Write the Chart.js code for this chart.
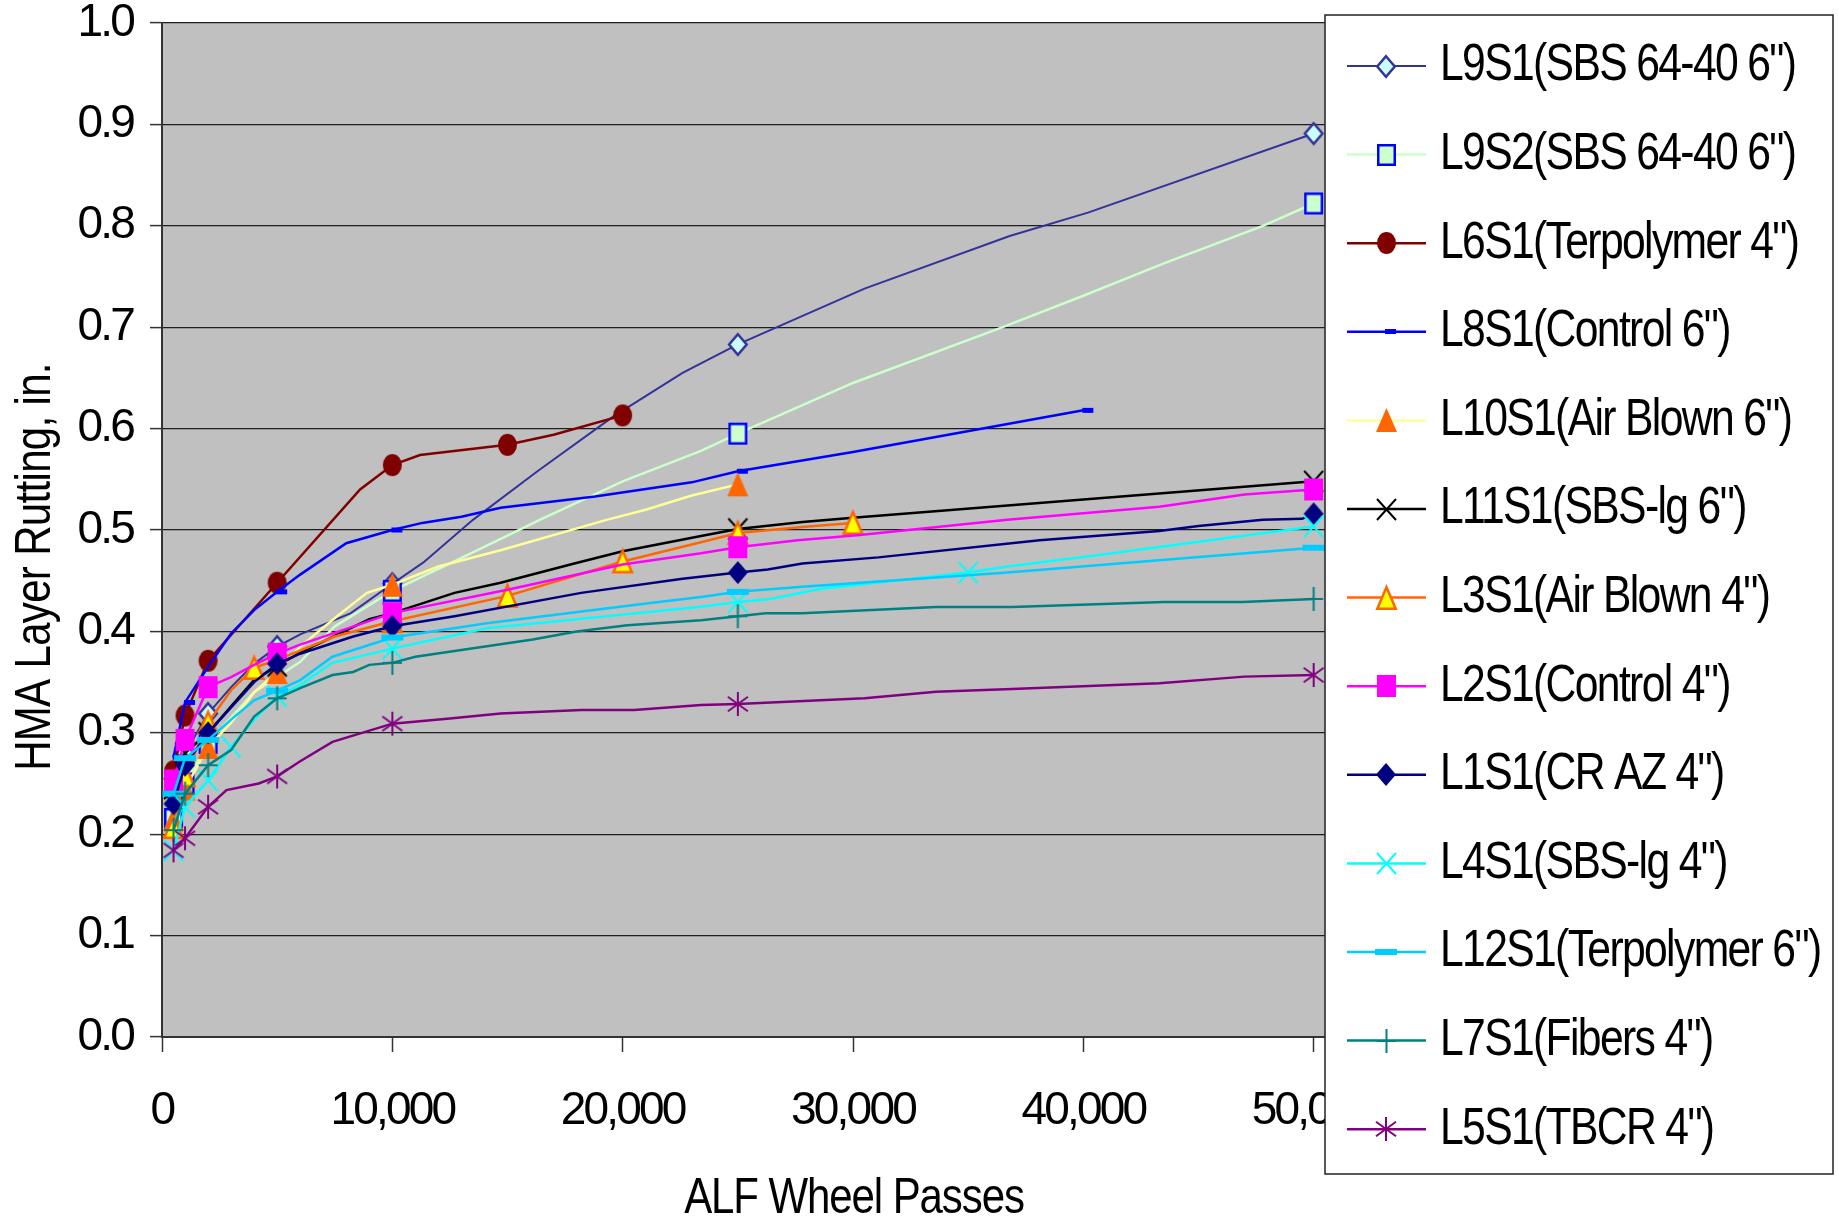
<!DOCTYPE html>
<html>
<head>
<meta charset="utf-8">
<script src="https://cdn.jsdelivr.net/npm/chart.js@4/dist/chart.umd.min.js"></script>
<style>
  html, body { margin: 0; padding: 0; background: #fff; }
  canvas { display: block; }
</style>
</head>
<body>
<canvas id="rutting" width="1839" height="1225"></canvas>
<script>
// ALF wheel passes vs HMA layer rutting (in.) per lane, [passes, rutting]
var L9S1 = [[500,0.24],[1000,0.28],[2000,0.319],[3000,0.345],[4000,0.368],[5000,0.385],[6000,0.397],[8200,0.418],[10000,0.447],[11350,0.468],[13500,0.51],[16300,0.558],[19600,0.612],[22600,0.655],[25000,0.683],[26800,0.701],[30500,0.738],[36800,0.79],[40200,0.813],[50000,0.891]];
var L9S2 = [[500,0.215],[1000,0.25],[2000,0.29],[3000,0.315],[4000,0.34],[5000,0.355],[6000,0.37],[7500,0.405],[10000,0.44],[12600,0.468],[15400,0.499],[16400,0.51],[20000,0.548],[23400,0.578],[25000,0.595],[30000,0.645],[36500,0.7],[40000,0.731],[43500,0.763],[47800,0.8],[50000,0.822]];
var L6S1 = [[500,0.262],[1000,0.317],[2000,0.371],[5000,0.448],[8600,0.54],[10000,0.564],[11200,0.574],[15000,0.584],[17000,0.594],[20000,0.613]];
var L8S1 = [[500,0.276],[1000,0.33],[2000,0.365],[3000,0.398],[4000,0.421],[5000,0.439],[6000,0.456],[8000,0.487],[10000,0.5],[11300,0.507],[13000,0.513],[14700,0.522],[18800,0.533],[23000,0.547],[25000,0.558],[30000,0.577],[40000,0.618]];
var L10S1 = [[500,0.215],[1000,0.245],[2000,0.286],[3000,0.31],[4000,0.34],[5000,0.36],[6000,0.385],[7600,0.415],[8900,0.438],[10000,0.446],[12000,0.464],[14700,0.48],[19300,0.51],[21000,0.52],[23000,0.534],[25000,0.545]];
var L11S1 = [[500,0.245],[1000,0.28],[2000,0.3],[3000,0.326],[4000,0.352],[5000,0.366],[6000,0.379],[9000,0.412],[10000,0.418],[12700,0.438],[14700,0.448],[17900,0.467],[20000,0.479],[23400,0.494],[25000,0.501],[27800,0.508],[30000,0.512],[50000,0.548]];
var L3S1 = [[500,0.207],[1000,0.258],[2000,0.31],[3000,0.342],[4000,0.364],[5000,0.372],[7500,0.395],[10000,0.41],[15000,0.435],[20000,0.469],[23400,0.488],[25000,0.497],[27800,0.503],[30000,0.507]];
var L2S1 = [[500,0.253],[1000,0.293],[2000,0.345],[3000,0.355],[4000,0.367],[5000,0.378],[6000,0.387],[10000,0.418],[15000,0.441],[20000,0.466],[23400,0.477],[25000,0.483],[27600,0.49],[30300,0.495],[36700,0.51],[43300,0.523],[47000,0.535],[50000,0.54]];
var L1S1 = [[500,0.23],[1000,0.268],[2000,0.3],[3000,0.325],[4000,0.35],[5000,0.368],[6000,0.378],[8300,0.395],[10000,0.405],[12700,0.415],[18200,0.438],[22600,0.452],[25000,0.458],[26300,0.461],[27800,0.467],[31100,0.473],[38100,0.49],[43300,0.499],[45000,0.504],[47800,0.51],[49500,0.511],[50000,0.516]];
var L4S1 = [[500,0.184],[1000,0.227],[2000,0.253],[3000,0.286],[4000,0.313],[5000,0.336],[6000,0.347],[7400,0.369],[10000,0.383],[14100,0.403],[23300,0.424],[25000,0.429],[26400,0.432],[28600,0.442],[32200,0.451],[35000,0.458],[36700,0.464],[40600,0.475],[50000,0.5035]];
var L12S1 = [[500,0.24],[1000,0.275],[2000,0.293],[3000,0.313],[4000,0.332],[5000,0.3415],[6000,0.352],[7400,0.375],[10000,0.394],[14100,0.408],[21200,0.428],[23400,0.434],[25000,0.439],[27800,0.444],[32200,0.451],[36700,0.458],[50000,0.4825]];
var L7S1 = [[500,0.204],[1000,0.24],[2000,0.268],[3000,0.283],[4000,0.316],[5000,0.334],[6000,0.344],[7400,0.357],[8300,0.36],[9000,0.367],[10000,0.369],[11000,0.375],[16100,0.392],[18000,0.4],[20200,0.406],[23400,0.411],[25000,0.415],[26200,0.418],[27800,0.418],[33600,0.424],[36900,0.424],[43500,0.429],[46900,0.429],[50000,0.432]];
var L5S1 = [[500,0.184],[1000,0.196],[2000,0.227],[2800,0.2435],[4200,0.25],[5000,0.257],[6000,0.272],[7400,0.291],[10000,0.309],[12500,0.314],[14700,0.319],[18200,0.3225],[20500,0.3225],[23400,0.3275],[25000,0.3284],[30500,0.334],[33600,0.3406],[36900,0.3432],[43300,0.3488],[47000,0.3554],[50000,0.357]];

// passes where each lane carries a marker
var L9S1_marks = [500, 1000, 2000, 5000, 10000, 25000, 50000];
var L9S2_marks = [500, 1000, 2000, 10000, 25000, 50000];
var L6S1_marks = [500, 1000, 2000, 5000, 10000, 15000, 20000];
var L8S1_marks = [500, 1000, 5000, 10000, 25000, 40000];
var L10S1_marks = [500, 1000, 2000, 5000, 10000, 25000];
var L11S1_marks = [500, 1000, 2000, 5000, 10000, 25000, 50000];
var L3S1_marks = [500, 1000, 2000, 4000, 10000, 15000, 20000, 25000, 30000];
var L2S1_marks = [500, 1000, 2000, 5000, 10000, 25000, 50000];
var L1S1_marks = [500, 1000, 2000, 5000, 10000, 25000, 50000];
var L4S1_marks = [500, 1000, 2000, 3000, 5000, 10000, 25000, 35000, 50000];
var L12S1_marks = [500, 1000, 2000, 5000, 10000, 25000, 50000];
var L7S1_marks = [500, 1000, 2000, 5000, 10000, 25000, 50000];
var L5S1_marks = [500, 1000, 2000, 5000, 10000, 25000, 50000];

var laneNames = ['L9S1(SBS 64-40 6")', 'L9S2(SBS 64-40 6")', 'L6S1(Terpolymer 4")', 'L8S1(Control 6")',
  'L10S1(Air Blown 6")', 'L11S1(SBS-lg 6")', 'L3S1(Air Blown 4")', 'L2S1(Control 4")', 'L1S1(CR AZ 4")',
  'L4S1(SBS-lg 4")', 'L12S1(Terpolymer 6")', 'L7S1(Fibers 4")', 'L5S1(TBCR 4")'];
var xTicks = [0, 10000, 20000, 30000, 40000, 50000, 60000];
var yTicks = [0, 0.1, 0.2, 0.3, 0.4, 0.5, 0.6, 0.7, 0.8, 0.9, 1.0];

var laneData = [L9S1, L9S2, L6S1, L8S1, L10S1, L11S1, L3S1, L2S1, L1S1, L4S1, L12S1, L7S1, L5S1];
var laneMarks = [L9S1_marks, L9S2_marks, L6S1_marks, L8S1_marks, L10S1_marks, L11S1_marks, L3S1_marks,
  L2S1_marks, L1S1_marks, L4S1_marks, L12S1_marks, L7S1_marks, L5S1_marks];

var FONT = '"Liberation Sans", Arial, sans-serif';

// marker images: shape, width, height, fill, stroke, stroke width
function makeMarker(shape, w, h, fill, stroke, lw) {
    var pad = 2;
    var c = document.createElement('canvas');
    var cw = shape === 'dashR' ? 2 * (w + 1) : w;
    c.width = cw + pad * 2;
    c.height = h + pad * 2;
    var g = c.getContext('2d');
    g.translate(pad, pad);
    g.fillStyle = fill;
    g.strokeStyle = stroke;
    g.lineWidth = lw;
    var i = lw / 2;
    g.beginPath();
    if (shape === 'diamond') {
        g.moveTo(w / 2, i); g.lineTo(w - i, h / 2); g.lineTo(w / 2, h - i); g.lineTo(i, h / 2); g.closePath();
        g.fill(); if (lw) g.stroke();
    } else if (shape === 'square') {
        g.rect(i, i, w - lw, h - lw);
        g.fill(); if (lw) g.stroke();
    } else if (shape === 'circle') {
        g.ellipse(w / 2, h / 2, w / 2, h / 2, 0, 0, Math.PI * 2);
        g.fill();
    } else if (shape === 'triangle') {
        g.moveTo(w / 2, i); g.lineTo(w - i, h - i); g.lineTo(i, h - i); g.closePath();
        g.fill(); if (lw) g.stroke();
    } else if (shape === 'dash') {
        g.fillRect(0, 0, w, h);
    } else if (shape === 'dashR') {
        // short bar starting just left of the point
        g.fillRect(w, 0, w, h);
    } else if (shape === 'x') {
        g.moveTo(0, 0); g.lineTo(w, h); g.moveTo(w, 0); g.lineTo(0, h);
        g.stroke();
    } else if (shape === 'plus') {
        g.moveTo(w / 2, 0); g.lineTo(w / 2, h); g.moveTo(0, h / 2); g.lineTo(w, h / 2);
        g.stroke();
    } else if (shape === 'star') {
        g.moveTo(w / 2, 0); g.lineTo(w / 2, h);
        g.moveTo(0, h * 0.2); g.lineTo(w, h * 0.8); g.moveTo(w, h * 0.2); g.lineTo(0, h * 0.8);
        g.stroke();
    }
    return c;
}

var lineColors = ['#333399', '#CCFFCC', '#800000', '#0000FF', '#FFFF99', '#000000', '#FF6600',
  '#FF00FF', '#000080', '#00FFFF', '#00CCFF', '#008080', '#800080'];
var lineWidths = [2, 2.5, 2.5, 2.5, 2.5, 2.5, 2.5, 2.5, 2.5, 2.5, 2.5, 2.5, 2.5];
var markers = [
    makeMarker('diamond', 20, 23, '#CCFFFF', '#333399', 2.5),
    makeMarker('square', 19, 22, '#CCFFCC', '#0000FF', 2.5),
    makeMarker('circle', 19, 22, '#800000', '#800000', 0),
    makeMarker('dashR', 11, 5, '#0000FF', '#0000FF', 0),
    makeMarker('triangle', 21, 24, '#FF6600', '#FF6600', 0),
    makeMarker('x', 19, 21, '#000', '#000000', 2),
    makeMarker('triangle', 21, 24, '#FFFF00', '#FF6600', 2.5),
    makeMarker('square', 19, 22, '#FF00FF', '#FF00FF', 0),
    makeMarker('diamond', 20, 23, '#000080', '#000080', 0),
    makeMarker('x', 19, 21, '#00FFFF', '#00FFFF', 2),
    makeMarker('dash', 22, 6, '#00CCFF', '#00CCFF', 0),
    makeMarker('plus', 19, 24, '#008080', '#008080', 2),
    makeMarker('star', 20, 24, '#800080', '#800080', 2)
];

var datasets = laneData.map(function(pairs, i) {
    var marks = laneMarks[i];
    return {
        label: laneNames[i],
        data: pairs.map(function(p) { return {x: p[0], y: p[1]}; }),
        borderColor: lineColors[i],
        backgroundColor: lineColors[i],
        borderWidth: lineWidths[i],
        pointStyle: markers[i],
        pointRadius: function(c) {
            return marks.indexOf(pairs[c.dataIndex][0]) >= 0 ? 10 : 0;
        },
        tension: 0,
        order: 20 - i // later lanes painted on top
    };
});

// condensed text: squeezed horizontally, slight negative tracking
function narrowText(ctx, text, x, y, sx, spacing, angle) {
    ctx.save();
    ctx.translate(x, y);
    if (angle) ctx.rotate(angle);
    ctx.scale(sx, 1);
    ctx.letterSpacing = spacing + 'px';
    ctx.fillText(text, 0, 0);
    ctx.restore();
}

var rutPlugin = {
    id: 'rutPlugin',
    beforeDraw: function(chart) {
        var ctx = chart.ctx, a = chart.chartArea;
        ctx.letterSpacing = '-2.8px';
        ctx.save();
        ctx.fillStyle = '#C0C0C0';
        ctx.fillRect(a.left, a.top, a.right - a.left, a.bottom - a.top);
        ctx.restore();
    },
    afterDraw: function(chart) {
        var ctx = chart.ctx;
        // axis titles
        ctx.save();
        ctx.fillStyle = '#000';
        ctx.font = '50px ' + FONT;
        ctx.textAlign = 'center';
        ctx.textBaseline = 'middle';
        narrowText(ctx, 'ALF Wheel Passes', 854, 1199, 0.84, -1.3, 0);
        narrowText(ctx, 'HMA Layer Rutting, in.', 36, 567, 0.84, -0.8, -Math.PI / 2);
        ctx.restore();

        // legend box laid over the right of the plot
        ctx.save();
        ctx.fillStyle = '#fff';
        ctx.fillRect(1325, 15, 508, 1159);
        ctx.strokeStyle = '#222';
        ctx.lineWidth = 1.5;
        ctx.strokeRect(1325, 15, 508, 1159);
        ctx.font = '52px ' + FONT;
        ctx.textBaseline = 'middle';
        ctx.textAlign = 'left';
        laneNames.forEach(function(name, i) {
            var y = 66 + i * 88.6;
            ctx.strokeStyle = lineColors[i];
            ctx.lineWidth = lineWidths[i];
            ctx.beginPath();
            ctx.moveTo(1347, y);
            ctx.lineTo(1426, y);
            ctx.stroke();
            var m = markers[i];
            ctx.drawImage(m, Math.round(1386 - m.width / 2), Math.round(y - m.height / 2));
            ctx.fillStyle = '#000';
            narrowText(ctx, name, 1440, y, 0.82, -2, 0);
        });
        ctx.restore();
    }
};

new Chart(document.getElementById('rutting').getContext('2d'), {
    type: 'line',
    data: { datasets: datasets },
    options: {
        responsive: false,
        animation: false,
        events: [],
        layout: { padding: { top: 23, right: 295, left: 0, bottom: 0 } },
        plugins: {
            legend: { display: false },
            tooltip: { enabled: false }
        },
        scales: {
            x: {
                type: 'linear',
                position: 'bottom',
                min: 0,
                max: 60000,
                afterBuildTicks: function(scale) {
                    scale.ticks = xTicks.map(function(v) { return {value: v}; });
                },
                afterFit: function(scale) {
                    scale.height = 188;
                    scale.paddingLeft = 0;
                    scale.paddingRight = 0;
                },
                grid: {
                    drawOnChartArea: false,
                    drawTicks: true,
                    tickLength: 15,
                    tickColor: '#333',
                    tickWidth: 1.5
                },
                border: { color: '#333', width: 2 },
                ticks: {
                    maxRotation: 0,
                    autoSkip: false,
                    padding: 32,
                    color: '#000',
                    font: { family: FONT, size: 46, lineHeight: 1.2 },
                    callback: function(v) { return v.toLocaleString('en-US'); }
                }
            },
            y: {
                min: 0,
                max: 1,
                afterBuildTicks: function(scale) {
                    scale.ticks = yTicks.map(function(v) { return {value: v}; });
                },
                afterFit: function(scale) {
                    scale.width = 162;
                    scale.paddingTop = 0;
                    scale.paddingBottom = 0;
                },
                grid: {
                    color: '#1e1e1e',
                    lineWidth: 1.2,
                    drawTicks: true,
                    tickLength: 12,
                    tickColor: '#333',
                    tickWidth: 1.5
                },
                border: { color: '#333', width: 2 },
                ticks: {
                    padding: 17,
                    color: '#000',
                    font: { family: FONT, size: 46, lineHeight: 1.2 },
                    callback: function(v) { return v.toFixed(1); }
                }
            }
        }
    },
    plugins: [rutPlugin]
});
</script>
</body>
</html>
